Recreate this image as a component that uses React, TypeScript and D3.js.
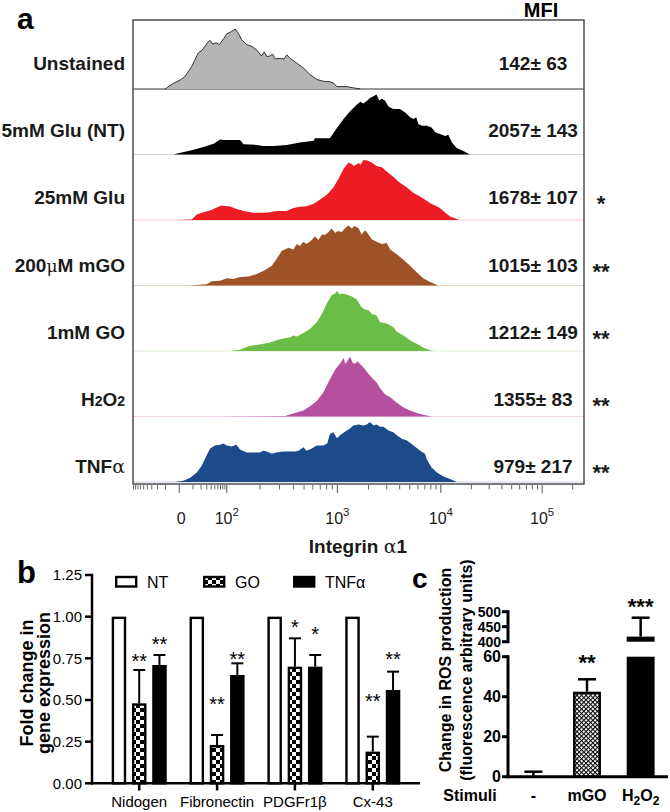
import React from 'react';
import * as d3 from 'd3';

const FONT = "'Liberation Sans', Arial, Helvetica, sans-serif";

// ---------- Panel a data ----------
const rowNames = ['Unstained', '5mM Glu (NT)', '25mM Glu', '200μM mGO', '1mM GO', 'H2O2', 'TNFα'];
const mfiMeans = [142, 2057, 1678, 1015, 1212, 1355, 979];
const mfiSEM = [63, 143, 107, 103, 149, 83, 217];
const mfiSig = ['', '', '*', '**', '**', '**', '**'];
const rowColors = ['#b4b4b4', '#000000', '#ed1c24', '#9e5227', '#6abd46', '#b5509f', '#1c4a8b'];
const baselineColors = ['#333333', '#d4d4d4', '#f5c9cb', '#ecd6c8', '#dbeed3', '#f1d2e8', '#cbd5e5'];

// histograms: [channel (0-1024), % of mode]
const histUnstained: [number, number][] = [[73,0],[88,8],[107,15],[118,21],[133,37],[148,60],[156,64],[171,79],[175,81],[181,75],[189,77],[196,74],[207,85],[213,92],[224,96],[232,100],[239,93],[247,82],[258,74],[270,71],[281,65],[292,55],[298,62],[304,54],[311,55],[317,58],[323,50],[330,51],[343,50],[349,57],[357,51],[372,43],[387,35],[402,24],[417,16],[432,13],[447,12],[455,10],[463,4],[485,4],[500,2],[516,0]];
const histNT: [number, number][] = [[92,0],[103,2],[133,7],[152,11],[167,14],[183,18],[198,25],[205,24],[243,24],[251,17],[281,16],[296,14],[319,14],[349,16],[379,20],[410,23],[413,27],[447,27],[463,44],[478,59],[493,72],[508,83],[516,88],[523,85],[532,90],[538,94],[546,97],[553,100],[559,90],[565,93],[572,90],[580,80],[591,76],[606,76],[618,70],[629,62],[637,59],[643,62],[648,51],[656,48],[667,48],[678,45],[686,37],[697,34],[709,31],[716,33],[724,20],[735,11],[750,6],[765,0]];
const hist25Glu: [number, number][] = [[95,0],[133,1],[145,9],[160,13],[175,16],[190,21],[201,24],[213,23],[220,23],[232,19],[251,15],[273,12],[296,12],[311,13],[326,15],[349,15],[364,20],[379,22],[394,23],[410,27],[425,34],[440,42],[455,54],[466,68],[478,85],[489,96],[497,93],[502,90],[512,95],[517,92],[523,100],[532,99],[542,96],[553,90],[565,88],[576,81],[591,72],[606,62],[622,54],[637,45],[648,41],[659,36],[675,28],[686,24],[697,20],[709,12],[720,6],[731,3],[739,0]];
const histMGO: [number, number][] = [[126,0],[167,2],[179,7],[198,8],[213,12],[228,11],[243,14],[262,15],[281,19],[300,26],[315,33],[326,44],[338,58],[345,60],[353,63],[364,60],[372,69],[379,66],[387,73],[394,69],[406,76],[413,82],[421,76],[429,85],[436,84],[444,89],[451,95],[459,88],[466,91],[474,89],[482,96],[489,100],[497,95],[502,99],[512,96],[519,85],[527,92],[532,88],[542,77],[553,73],[565,69],[576,71],[584,60],[599,52],[614,43],[629,33],[644,22],[659,12],[675,6],[693,0]];
const histGO: [number, number][] = [[220,0],[243,2],[262,8],[281,10],[296,12],[311,14],[326,18],[341,21],[357,23],[364,26],[372,24],[387,30],[402,37],[417,48],[429,62],[440,79],[451,93],[459,96],[463,100],[469,94],[474,96],[485,94],[497,91],[508,86],[519,73],[527,69],[535,68],[542,62],[553,59],[561,48],[576,46],[591,40],[599,32],[614,26],[629,18],[644,12],[659,6],[675,1],[686,0]];
const histH2O2: [number, number][] = [[190,0],[345,1],[368,6],[387,10],[402,17],[417,26],[432,40],[447,62],[459,78],[466,85],[472,90],[478,98],[482,88],[487,93],[493,100],[499,89],[504,88],[510,92],[516,87],[523,82],[535,71],[546,62],[553,57],[561,47],[572,37],[584,32],[599,23],[614,15],[629,10],[644,6],[659,3],[678,0]];
const histTNF: [number, number][] = [[95,0],[114,2],[130,7],[145,16],[156,27],[167,44],[175,56],[186,61],[198,62],[205,64],[213,61],[224,59],[235,62],[243,54],[258,49],[273,49],[288,49],[296,52],[304,51],[315,47],[326,49],[341,51],[353,51],[368,51],[376,52],[387,58],[394,52],[406,56],[417,61],[432,61],[441,64],[447,80],[455,83],[463,73],[470,78],[482,84],[493,89],[500,94],[512,96],[523,94],[531,96],[538,100],[546,94],[553,96],[561,92],[569,92],[580,86],[591,83],[599,78],[610,72],[622,69],[637,61],[652,52],[663,47],[667,38],[678,24],[690,16],[705,9],[720,5],[735,0]];
const histograms = [histUnstained, histNT, hist25Glu, histMGO, histGO, histH2O2, histTNF];

// x axis of panel a (biexponential display)
const zeroChannel = 105;
const axisDecades = [2, 3, 4, 5];
const decadeChannels = [213, 464, 699, 929];
const majorTickValues = [0, 100, 1000, 10000, 100000];
const majorTickExp = ['', '2', '3', '4', '5'];

// ---------- Panel b data ----------
const bCategories = ['Nidogen', 'Fibronectin', 'PDGFr1β', 'Cx-43'];
const bSeries = ['NT', 'GO', 'TNFα'];
const bNT = [1, 1, 1, 1];
const bGO = [0.48, 0.23, 0.70, 0.19];
const bGOErr = [0.20, 0.06, 0.17, 0.09];
const bTNF = [0.71, 0.65, 0.70, 0.56];
const bTNFErr = [0.06, 0.07, 0.07, 0.11];
const bGOStars = ['**', '**', '*', '**'];
const bGOStarPos = [0.76, 0.50, 0.96, 0.52];
const bTNFStars = ['**', '**', '*', '**'];
const bTNFStarPos = [0.86, 0.77, 0.92, 0.77];
const bYTicks = [0, 0.25, 0.5, 0.75, 1.0, 1.25];

// ---------- Panel c data ----------
const cCategories = ['-', 'mGO', 'H2O2'];
const cValues = [0, 42.5, 417];
const cErr = [2.5, 6.2, 63];
const cStars = ['', '**', '***'];
const cStarPos = [0, 59.2, 533];
const cLowTicks = [0, 20, 40, 60];
const cHighTicks = [400, 450, 500];

function rowLabel(name: string) {
  if (name === 'H2O2') {
    return (<>H<tspan fontSize={14}>2</tspan>O<tspan fontSize={14}>2</tspan></>);
  }
  if (name === 'TNFα') {
    return (<>TNF<tspan fontFamily="'DejaVu Serif', serif" fontWeight="normal">α</tspan></>);
  }
  if (name.includes('μ')) {
    const [a, b] = name.split('μ');
    return (<>{a}<tspan fontFamily="'DejaVu Serif', serif" fontWeight="normal" fontSize={17}>μ</tspan>{b}</>);
  }
  return name;
}

export default function App() {
  // ----- panel a scales -----
  const xA = d3.scaleLinear().domain([0, 1024]).range([133, 584]);
  const rowBand = d3.scaleBand<string>().domain(rowNames).range([23.5, 482]);
  const rowH = d3.scaleLinear().domain([0, 100]).range([0, 60]);
  const labelY = d3.scalePoint<string>().domain(rowNames).range([63, 466]);
  const decadeScale = d3.scaleLinear().domain(axisDecades).range(decadeChannels);
  const toChannel = (v: number) =>
    Math.abs(v) >= 100
      ? decadeScale(Math.log10(v))
      : zeroChannel + Math.sign(v) * (decadeChannels[0] - zeroChannel) * Math.log1p(Math.abs(v) / 10) / Math.log1p(10);
  const minorVals: number[] = [];
  for (let k = 1; k <= 9; k++) { minorVals.push(-10 * k); minorVals.push(10 * k); }
  for (let d = 2; d <= 4; d++) for (let k = 2; k <= 9; k++) minorVals.push(k * Math.pow(10, d));
  minorVals.push(200000);

  // ----- panel b scales -----
  const xB = d3.scaleBand<string>().domain(bCategories).range([92, 420]).paddingInner(0.293).paddingOuter(0.253);
  const xBi = d3.scaleBand<string>().domain(bSeries).range([0, xB.bandwidth()]).paddingInner(0.284);
  const yB = d3.scaleLinear().domain([0, 1.25]).range([783.3, 575]);
  const bSeriesVals = [bNT, bGO, bTNF];
  const bSeriesErr = [[0, 0, 0, 0], bGOErr, bTNFErr];
  const bSeriesStars = [['', '', '', ''], bGOStars, bTNFStars];
  const bSeriesStarPos = [[0, 0, 0, 0], bGOStarPos, bTNFStarPos];
  const bFills = ['#ffffff', 'url(#checkB)', '#000000'];

  // ----- panel c scales -----
  const xC = d3.scaleBand<string>().domain(cCategories).range([506, 668]).paddingInner(0.48).paddingOuter(0.25);
  const yLow = d3.scaleLinear().domain([0, 60]).range([776.7, 656.7]);
  const yHigh = d3.scaleLinear().domain([400, 500]).range([641.7, 611.7]);
  const yC = (v: number) => (v <= 60 ? yLow(v) : yHigh(v));

  return (
    <div style={{ position: 'absolute', left: 0, top: 0 }}>
      <svg width={670} height={812} style={{ display: 'block', fontFamily: FONT }}>
        <defs>
          <pattern id="checkB" width={8} height={8} patternUnits="userSpaceOnUse">
            <rect width={8} height={8} fill="#fff" />
            <rect width={4} height={4} fill="#000" />
            <rect x={4} y={4} width={4} height={4} fill="#000" />
          </pattern>
          <pattern id="hatchC" width={3.2} height={3.2} patternUnits="userSpaceOnUse" patternTransform="rotate(45)">
            <rect width={3.2} height={3.2} fill="#fff" />
            <path d="M0 0.5 H3.2 M0.5 0 V3.2" stroke="#000" strokeWidth={1.1} />
          </pattern>
        </defs>

        {/* ================= Panel a ================= */}
        <text x={17} y={29} fontSize={30} fontWeight="bold">a</text>
        <text x={541} y={17} fontSize={20} fontWeight="bold" textAnchor="middle">MFI</text>

        {rowNames.map((name, i) => {
          const base = (rowBand(name) as number) + rowBand.bandwidth();
          const area = d3.area<[number, number]>()
            .x(d => xA(d[0]))
            .y0(base)
            .y1(d => base - rowH(d[1]));
          const line = d3.line<[number, number]>()
            .x(d => xA(d[0]))
            .y(d => base - rowH(d[1]));
          return (
            <g key={name}>
              <line x1={xA(0)} x2={xA(1024)} y1={base} y2={base} stroke={baselineColors[i]} strokeWidth={1} />
              <path d={area(histograms[i]) || ''} fill={rowColors[i]} />
              {i === 0 && <path d={line(histograms[i]) || ''} fill="none" stroke="#222" strokeWidth={0.9} />}
            </g>
          );
        })}

        <rect x={xA(0)} y={20} width={xA(1024) - xA(0)} height={484 - 20} fill="none" stroke="#444" strokeWidth={1.4} />

        {rowNames.map((name, i) => {
          const cy = labelY(name) as number;
          return (
            <g key={'lab' + name}>
              <text x={125} y={cy + 7} fontSize={19} fontWeight="bold" textAnchor="end" fill="#1a1a1a">{rowLabel(name)}</text>
              <text x={533} y={cy + 7} fontSize={19} fontWeight="bold" textAnchor="middle" fill="#1a1a1a">{`${mfiMeans[i]}± ${mfiSEM[i]}`}</text>
              {mfiSig[i] && <text x={601} y={cy + 14} fontSize={22} fontWeight="bold" textAnchor="middle" fill="#1a1a1a">{mfiSig[i]}</text>}
            </g>
          );
        })}

        {/* x axis ticks */}
        {minorVals.map(v => (
          <line key={'mn' + v} x1={xA(toChannel(v))} x2={xA(toChannel(v))} y1={485} y2={489.5} stroke="#555" strokeWidth={0.9} />
        ))}
        {majorTickValues.map(v => (
          <line key={'mj' + v} x1={xA(toChannel(v))} x2={xA(toChannel(v))} y1={485} y2={493} stroke="#555" strokeWidth={1} />
        ))}
        {majorTickValues.map((v, i) => (
          <text key={'ml' + v} x={xA(toChannel(v)) + (i === 0 ? 2 : 0)} y={524} fontSize={16} textAnchor="middle" fill="#1a1a1a">
            {i === 0 ? '0' : (<>10<tspan fontSize={11.5} dy={-8}>{majorTickExp[i]}</tspan></>)}
          </text>
        ))}
        <text x={358} y={553} fontSize={19} fontWeight="bold" textAnchor="middle" fill="#1a1a1a">
          Integrin <tspan fontFamily="'DejaVu Serif', serif" fontWeight="normal">α</tspan>1
        </text>

        {/* ================= Panel b ================= */}
        <text x={17} y={583} fontSize={31} fontWeight="bold">b</text>
        <text transform="translate(27,683) rotate(-90)" fontSize={18} fontWeight="bold" textAnchor="middle" dominantBaseline="central">Fold change in</text>
        <text transform="translate(44,683) rotate(-90)" fontSize={18} fontWeight="bold" textAnchor="middle" dominantBaseline="central">gene expression</text>

        {bYTicks.map(t => (
          <g key={'by' + t}>
            <line x1={85} x2={92} y1={yB(t)} y2={yB(t)} stroke="#000" strokeWidth={2.5} />
            <text x={82} y={yB(t) + 5.3} fontSize={15} textAnchor="end">{t.toFixed(2)}</text>
          </g>
        ))}
        <line x1={92} x2={92} y1={yB(1.25) - 1.2} y2={yB(0) + 1.2} stroke="#000" strokeWidth={2.5} />

        {bCategories.map((cat, ci) => (
          <g key={'bc' + cat}>
            {bSeries.map((s, si) => {
              const v = bSeriesVals[si][ci];
              const e = bSeriesErr[si][ci];
              const x0 = (xB(cat) as number) + (xBi(s) as number);
              const w = xBi.bandwidth();
              const cx = x0 + w / 2;
              return (
                <g key={s}>
                  {e > 0 && (
                    <>
                      <line x1={cx} x2={cx} y1={yB(v)} y2={yB(v + e)} stroke="#000" strokeWidth={2} />
                      <line x1={cx - 6} x2={cx + 6} y1={yB(v + e)} y2={yB(v + e)} stroke="#000" strokeWidth={2} />
                    </>
                  )}
                  <rect x={x0 + 1.2} y={yB(v) + 1.2} width={w - 2.4} height={yB(0) - yB(v) - 1.2} fill={bFills[si]} stroke="#000" strokeWidth={2.4} />
                  {bSeriesStars[si][ci] && (
                    <text x={cx} y={yB(bSeriesStarPos[si][ci]) + 11} fontSize={20} textAnchor="middle">{bSeriesStars[si][ci]}</text>
                  )}
                </g>
              );
            })}
            <line x1={(xB(cat) as number) + xB.bandwidth() / 2} x2={(xB(cat) as number) + xB.bandwidth() / 2} y1={783} y2={790.5} stroke="#000" strokeWidth={2.5} />
            <text x={(xB(cat) as number) + xB.bandwidth() / 2} y={807} fontSize={15} textAnchor="middle">{cat}</text>
          </g>
        ))}
        <line x1={91} x2={420} y1={yB(0)} y2={yB(0)} stroke="#000" strokeWidth={2.5} />

        {/* legend */}
        {bSeries.map((s, si) => {
          const lx = [115, 203, 293][si];
          return (
            <g key={'lg' + s}>
              <rect x={lx + 1.2} y={577} width={20} height={9.5} fill={bFills[si]} stroke="#000" strokeWidth={2.4} />
              <text x={lx + 32} y={587.5} fontSize={16}>{s}</text>
            </g>
          );
        })}

        {/* ================= Panel c ================= */}
        <text x={412} y={588} fontSize={28} fontWeight="bold">c</text>
        <text transform="translate(445,670) rotate(-90)" fontSize={16} fontWeight="bold" textAnchor="middle" dominantBaseline="central">Change in ROS production</text>
        <text transform="translate(466,670) rotate(-90)" fontSize={16} fontWeight="bold" textAnchor="middle" dominantBaseline="central">(fluorescence arbitrary units)</text>

        {/* y axes */}
        <line x1={508} x2={508} y1={yLow(60) - 1.5} y2={yLow(0) + 1.5} stroke="#000" strokeWidth={3} />
        <line x1={508} x2={508} y1={yHigh(500) - 1.5} y2={yHigh(400) + 1.5} stroke="#000" strokeWidth={3} />
        {cLowTicks.map(t => (
          <g key={'cl' + t}>
            <line x1={502} x2={508} y1={yLow(t)} y2={yLow(t)} stroke="#000" strokeWidth={3} />
            <text x={501} y={yLow(t) + 5.5} fontSize={16} fontWeight="bold" textAnchor="end">{t}</text>
          </g>
        ))}
        {cHighTicks.map(t => (
          <g key={'ch' + t}>
            <line x1={502} x2={508} y1={yHigh(t)} y2={yHigh(t)} stroke="#000" strokeWidth={3} />
            <text x={501} y={yHigh(t) + 5} fontSize={14} fontWeight="bold" textAnchor="end">{t}</text>
          </g>
        ))}

        {/* bars */}
        {cCategories.map((cat, i) => {
          const x0 = xC(cat) as number;
          const w = xC.bandwidth();
          const cx = x0 + w / 2;
          const v = cValues[i];
          const top = v + cErr[i];
          const fill = i === 1 ? 'url(#hatchC)' : '#000';
          return (
            <g key={'cb' + cat}>
              <line x1={cx} x2={cx} y1={yC(v)} y2={yC(top)} stroke="#000" strokeWidth={2.5} />
              <line x1={cx - 9} x2={cx + 9} y1={yC(top)} y2={yC(top)} stroke="#000" strokeWidth={2.5} />
              {v > 0 && v <= 60 && (
                <rect x={x0 + 1.2} y={yLow(v) + 1.2} width={w - 2.4} height={yLow(0) - yLow(v) - 1.2} fill={fill} stroke="#000" strokeWidth={2.4} />
              )}
              {v > 60 && (
                <>
                  <rect x={x0} y={yLow(60)} width={w} height={yLow(0) - yLow(60)} fill={fill} />
                  <rect x={x0} y={yHigh(v)} width={w} height={yHigh(400) - yHigh(v)} fill={fill} />
                </>
              )}
              {cStars[i] && (
                <text x={cx} y={yC(cStarPos[i]) + 12} fontSize={22} fontWeight="bold" textAnchor="middle">{cStars[i]}</text>
              )}
              <text x={cx} y={801} fontSize={16} fontWeight="bold" textAnchor="middle">
                {cat === 'H2O2' ? (<>H<tspan fontSize={12} dy={4}>2</tspan><tspan dy={-4}>O</tspan><tspan fontSize={12} dy={4}>2</tspan></>) : cat}
              </text>
            </g>
          );
        })}
        <line x1={506.5} x2={668} y1={yLow(0)} y2={yLow(0)} stroke="#000" strokeWidth={3} />
        <text x={470} y={801} fontSize={16} fontWeight="bold" textAnchor="middle">Stimuli</text>
      </svg>
    </div>
  );
}
